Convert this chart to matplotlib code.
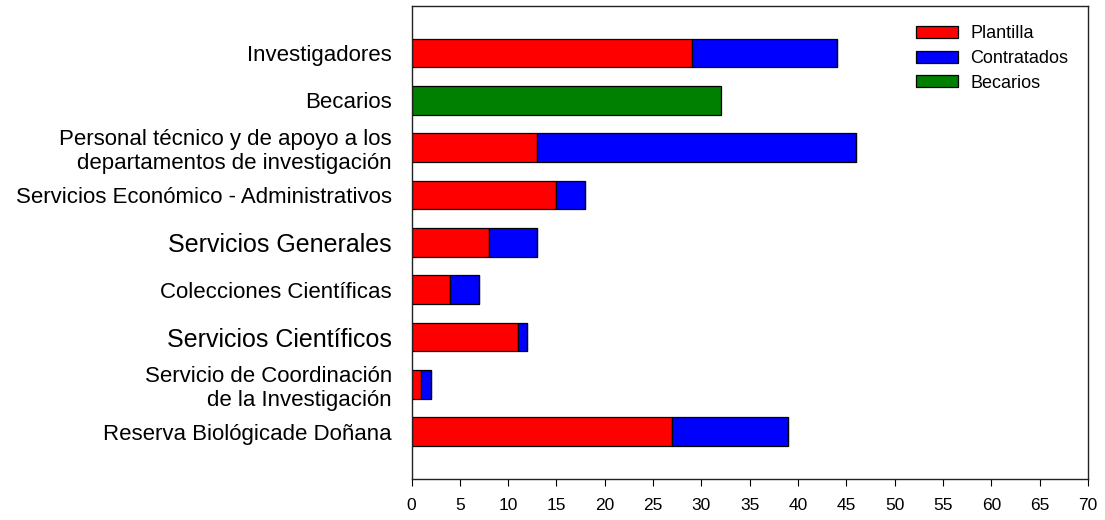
import matplotlib
matplotlib.use("Agg")
import matplotlib.pyplot as plt
import numpy as np

plt.rcParams['font.family'] = ['Liberation Sans', 'DejaVu Sans']

categorias = ['Investigadores', 'Becarios',
              'Personal técnico y de apoyo a los\ndepartamentos de investigación',
              'Servicios Económico - Administrativos', 'Servicios Generales',
              'Colecciones Científicas', 'Servicios Científicos',
              'Servicio de Coordinación\nde la Investigación',
              'Reserva Biológicade Doñana']
plantilla = [29, 0, 13, 15, 8, 4, 11, 1, 27]
contratados = [15, 0, 33, 3, 5, 3, 1, 1, 12]
becarios = [0, 32, 0, 0, 0, 0, 0, 0, 0]
tamanos = [16, 16, 16, 16, 18, 16, 18, 16, 16]

fig = plt.figure(figsize=(11.05, 5.2), dpi=100)
ax = fig.add_axes([0.3724, 0.0788, 0.6122, 0.9102])

y = np.arange(len(categorias))
h = 0.61
ax.barh(y, plantilla, height=h, color='#ff0000', edgecolor='black', linewidth=0.9, label='Plantilla')
ax.barh(y, contratados, left=plantilla, height=h, color='#0000ff', edgecolor='black', linewidth=0.9, label='Contratados')
ax.barh(y, becarios, left=np.array(plantilla) + np.array(contratados), height=h,
        color='#008000', edgecolor='black', linewidth=0.9, label='Becarios')

ax.set_xlim(0, 70)
ax.set_ylim(9, -1)
ax.set_xticks(range(0, 71, 5))
ax.tick_params(axis='x', labelsize=12.5, length=5, direction='out', pad=9)
ax.set_yticks(y)
ax.set_yticklabels(categorias, ha='right')
for lab, s in zip(ax.get_yticklabels(), tamanos):
    lab.set_fontsize(s)
    lab.set_multialignment('right')
ax.tick_params(axis='y', length=0, pad=14)

for sp in ax.spines.values():
    sp.set_color('#222222')
    sp.set_linewidth(1)

ax.legend(loc='upper left', frameon=False, fontsize=13, handlelength=2.33,
          handleheight=0.66, labelspacing=0.42, handletextpad=0.66,
          borderpad=0, borderaxespad=0,
          bbox_to_anchor=(0.829, 0.951), bbox_transform=fig.transFigure)

fig.savefig('out.png', dpi=100)
